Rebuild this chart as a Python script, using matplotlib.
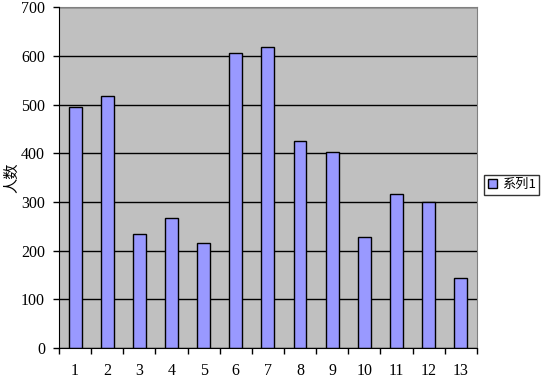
import numpy as np
import matplotlib.pyplot as plt

categories = [str(i) for i in range(1, 14)]
values = [495, 517, 234, 267, 216, 606, 618, 425, 403, 228, 316, 300, 144]
series_name = "系列1"
y_label = "人数"

plt.rcParams['font.family'] = ['Liberation Serif', 'Noto Sans CJK SC', 'DejaVu Sans']

fig = plt.figure(figsize=(5.44, 3.83), dpi=100)
ax = fig.add_axes([0.1085, 0.0914, 0.768, 0.890])
ax.set_facecolor("#C0C0C0")

x = np.arange(len(categories))
ax.bar(x, values, width=0.4, color="#9999FF", edgecolor="black", linewidth=1,
       label=series_name, zorder=3)

ax.set_xlim(-0.5, len(categories) - 0.5)
ax.set_ylim(0, 700)
ax.set_yticks(range(0, 701, 100))
ax.yaxis.grid(True, color="black", linewidth=1, zorder=1)
ax.set_axisbelow(True)

ax.set_xticks(x)
ax.set_xticklabels(categories)
ax.set_xticks(np.arange(-0.5, len(categories), 1), minor=True)
ax.tick_params(axis="x", which="major", length=0, labelsize=11.5, pad=11)
ax.tick_params(axis="x", which="minor", length=4, direction="out", width=1)
ax.tick_params(axis="y", length=4, direction="out", width=1, labelsize=11.5, pad=6)

ax.set_ylabel(y_label, fontsize=11, family=['Noto Sans CJK SC'], labelpad=1)

for s in ["top", "right"]:
    ax.spines[s].set_color("#808080")
for s in ["left", "bottom"]:
    ax.spines[s].set_color("black")
    ax.spines[s].set_zorder(4)

leg = ax.legend(loc="center left", bbox_to_anchor=(1.012, 0.479), frameon=True,
                fancybox=False, edgecolor="black",
                handlelength=0.7, handleheight=0.7, handletextpad=0.35,
                borderpad=0.25, borderaxespad=0.2,
                prop={'family': ['Noto Sans CJK SC'], 'size': 9.5})
leg.get_frame().set_linewidth(1)

fig.savefig("out.png", dpi=100, facecolor="white")
